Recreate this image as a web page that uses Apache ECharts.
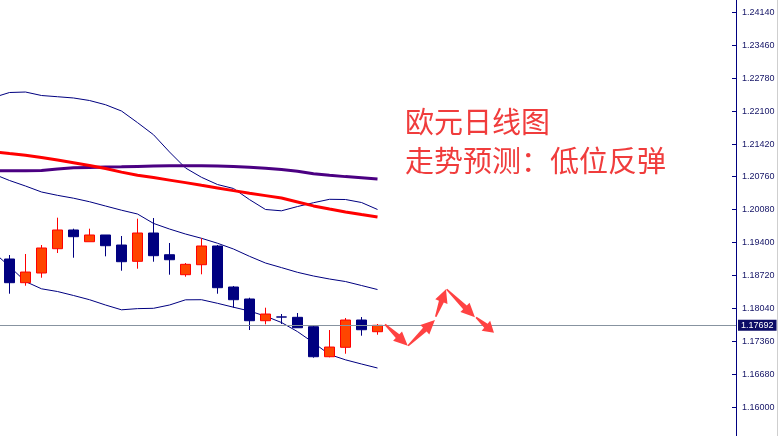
<!DOCTYPE html>
<html><head><meta charset="utf-8">
<script src="https://cdn.jsdelivr.net/npm/echarts@6/dist/echarts.min.js"></script>
<style>html,body{margin:0;padding:0;background:#fff}#c{width:779px;height:436px}</style>
</head><body><div id="c"></div>
<script>
// ---- candle data (bar index, open, close, low, high) ----
const candleX = [0,1,2,3,4,5,6,7,8,9,10,11,12,13,14,15,16,17,18,19,20,21,22,23];
const openP  = [1.19060,1.18571,1.18771,1.19272,1.19658,1.19416,1.19555,1.19348,1.19012,1.19596,1.19148,1.18736,1.18942,1.19328,1.18482,1.18235,1.17787,1.17865,1.17857,1.17663,1.17044,1.17238,1.17801,1.17560];
const closeP = [1.18571,1.18791,1.19287,1.19658,1.19520,1.19555,1.19334,1.19004,1.19596,1.19128,1.19045,1.18950,1.19328,1.18468,1.18220,1.17787,1.17925,1.17862,1.17642,1.17044,1.17244,1.17801,1.17601,1.17692];
const lowP   = [1.18344,1.18509,1.18674,1.19183,1.19086,1.19416,1.19115,1.18818,1.18860,1.19004,1.18736,1.18695,1.18744,1.18344,1.18055,1.17595,1.17713,1.17719,1.17642,1.17024,1.17032,1.17106,1.17478,1.17498];
const highP  = [1.19142,1.19163,1.19348,1.19912,1.19685,1.19685,1.19555,1.19534,1.19891,1.19905,1.19390,1.18977,1.19487,1.19348,1.18503,1.18261,1.18055,1.17925,1.17946,1.17678,1.17595,1.17843,1.17863,1.17719];

// ---- indicator lines (start one bar before the first visible candle) ----
const lineX = [-1,0,1,2,3,4,5,6,7,8,9,10,11,12,13,14,15,16,17,18,19,20,21,22,23];
const bandUpper  = [1.22391,1.22494,1.22504,1.22432,1.22407,1.22381,1.22329,1.22242,1.22112,1.21873,1.21623,1.21267,1.20937,1.20745,1.20596,1.20514,1.20285,1.20081,1.20054,1.20142,1.20221,1.20291,1.20287,1.20225,1.20081];
const bandMiddle = [1.20813,1.20679,1.20565,1.20442,1.20373,1.20314,1.20241,1.20153,1.20066,1.19988,1.19794,1.19678,1.19575,1.19487,1.19385,1.19266,1.19115,1.18977,1.18882,1.18785,1.18709,1.18647,1.18595,1.18513,1.18430];
const bandLower  = [1.19204,1.18905,1.18595,1.18445,1.18389,1.18307,1.18220,1.18111,1.18012,1.18036,1.18043,1.18111,1.18218,1.18220,1.18146,1.18065,1.17987,1.17880,1.17750,1.17562,1.17333,1.17090,1.16980,1.16894,1.16811];
const maRed      = [1.21275,1.21234,1.21201,1.21155,1.21100,1.21044,1.20988,1.20926,1.20852,1.20788,1.20739,1.20687,1.20635,1.20580,1.20526,1.20470,1.20415,1.20367,1.20318,1.20237,1.20155,1.20091,1.20031,1.19978,1.19926];
const maPurple   = [1.20879,1.20881,1.20881,1.20885,1.20918,1.20941,1.20949,1.20955,1.20961,1.20970,1.20978,1.20984,1.20984,1.20982,1.20978,1.20968,1.20953,1.20932,1.20904,1.20871,1.20817,1.20786,1.20759,1.20735,1.20710];

// ---- forecast arrows ----
const arrowFromX = [23.47,24.91,26.64,27.32,29.16];
const arrowFromY = [1.17713,1.17271,1.17869,1.18435,1.17857];
const arrowToX   = [24.89,26.59,27.28,29.09,30.28];
const arrowToY   = [1.17271,1.17801,1.18435,1.17857,1.17539];

// ---- axis ----
const tickValues = [1.16000,1.16680,1.17360,1.18040,1.18720,1.19400,1.20080,1.20760,1.21420,1.22100,1.22780,1.23460,1.24140];
const currentPrice = 1.17692;
const titleLines = ['欧元日线图', '走势预测：低位反弹'];

const candleData = candleX.map((x,k)=>[x, openP[k], closeP[k], lowP[k], highP[k]]);
const mk = arr => lineX.map((x,k)=>[x, arr[k]]);
const arrowData = arrowFromX.map((x,k)=>[x, arrowFromY[k], arrowToX[k], arrowToY[k]]);

const chart = echarts.init(document.getElementById('c'), null, {renderer:'canvas'});

function lineSeries(arr, color, width){
  return {type:'line', data: mk(arr), symbol:'none', silent:true,
    lineStyle:{color:color, width:width}, z:2, clip:true};
}

chart.setOption({
  animation:false,
  backgroundColor:'#ffffff',
  grid:{left:0, right:43, top:0, bottom:0, containLabel:false, outerBoundsMode:'none'},
  xAxis:{type:'value', min:-0.59375, max:45.40625, show:false, splitLine:{show:false}},
  yAxis:{type:'value', position:'right', min:1.15409, max:1.24402, scale:true,
    axisLine:{show:true, onZero:false, lineStyle:{color:'#000080', width:1}},
    axisTick:{show:true, inside:true, length:4, lineStyle:{color:'#000080'}, customValues: tickValues},
    axisLabel:{show:true, margin:6, color:'#141466', fontSize:9, fontFamily:'Liberation Sans',
      customValues: tickValues, formatter: v => Number(v).toFixed(5)},
    splitLine:{show:false}
  },
  series:[
    {
      type:'line', data:[], symbol:'none', silent:true, z:1,
      markLine:{
        silent:true, symbol:['none','none'], animation:false, precision:5,
        data:[{yAxis: currentPrice}],
        lineStyle:{color:'#8793a0', width:1, type:'solid'},
        label:{show:true, position:'end', distance:2, formatter: currentPrice.toFixed(5),
          backgroundColor:'#0c0c66', color:'#ffffff', fontSize:9, fontFamily:'Liberation Sans',
          padding:[1,3,1,3]}
      }
    },
    lineSeries(bandUpper, '#000080', 1),
    lineSeries(bandMiddle, '#000080', 1),
    lineSeries(bandLower, '#000080', 1),
    lineSeries(maPurple, '#4b0082', 3),
    lineSeries(maRed, '#ff0000', 3),
    {
      type:'candlestick', data: candleData, encode:{x:0, y:[1,2,3,4]},
      barWidth:11, z:3, silent:true,
      itemStyle:{color:'#ff4500', color0:'#000080', borderColor:'#ff0000', borderColor0:'#000080', borderWidth:1}
    },
    {
      type:'custom', data: arrowData, encode:{x:[0,2], y:[1,3]}, z:5, silent:true, clip:false,
      renderItem:function(params, api){
        const a = api.coord([api.value(0), api.value(1)]);
        const b = api.coord([api.value(2), api.value(3)]);
        const dx=b[0]-a[0], dy=b[1]-a[1];
        const len=Math.sqrt(dx*dx+dy*dy);
        const ux=dx/len, uy=dy/len, nx=-uy, ny=ux;
        const hl=Math.min(14, len*0.45), hw=6.5, sw=2.6, tw=0.8;
        const hx=b[0]-ux*hl, hy=b[1]-uy*hl;
        const pts=[
          [a[0]+nx*tw, a[1]+ny*tw],
          [hx+nx*sw, hy+ny*sw],
          [hx+nx*hw, hy+ny*hw],
          [b[0], b[1]],
          [hx-nx*hw, hy-ny*hw],
          [hx-nx*sw, hy-ny*sw],
          [a[0]-nx*tw, a[1]-ny*tw]
        ];
        return {type:'polygon', shape:{points:pts}, style:{fill:'#ff4242', stroke:null}};
      }
    }
  ],
  graphic:[
    {type:'text', left:405, top:107, style:{text:titleLines[0], font:'29px "Noto Sans CJK SC"', fill:'#f03c3c'}},
    {type:'text', left:405, top:146, style:{text:titleLines[1], font:'29px "Noto Sans CJK SC"', fill:'#f03c3c'}},
    {type:'line', shape:{x1:777.5, y1:0, x2:777.5, y2:436}, style:{stroke:'#cfcfcf', lineWidth:1}, silent:true}
  ]
});
</script>
</body></html>
